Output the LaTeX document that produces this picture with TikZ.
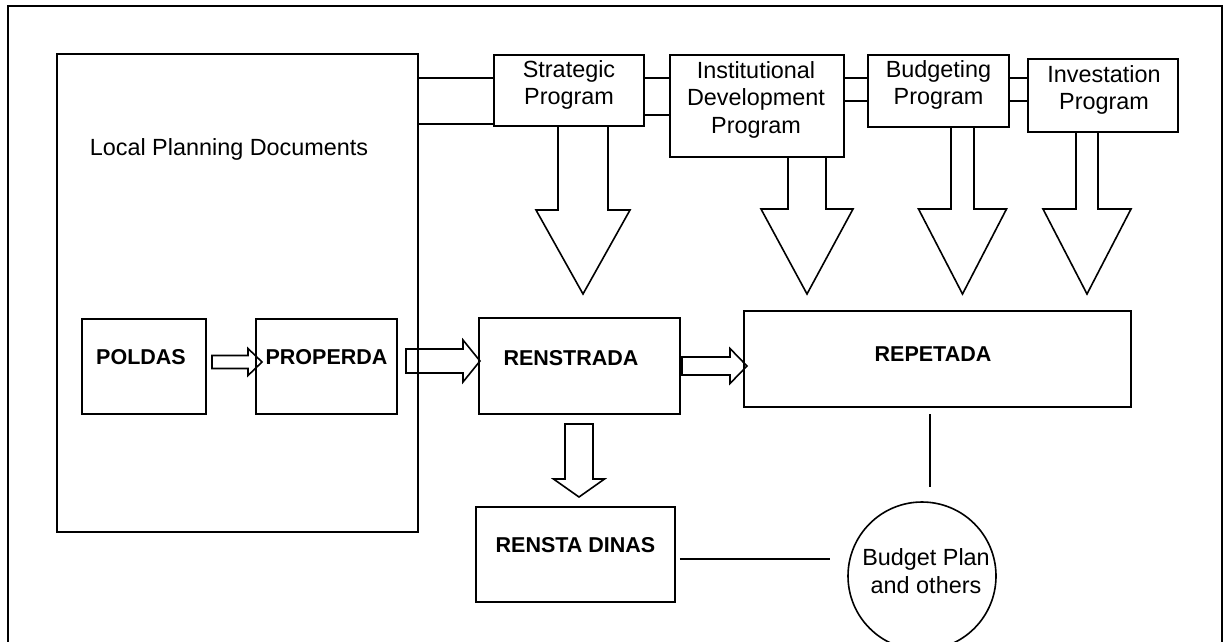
\documentclass[tikz,border=0pt]{standalone}
\usepackage{fontspec}
\setmainfont{Liberation Sans}
\begin{document}
\begin{tikzpicture}[x=1pt,y=-1pt,
  box/.style={draw, line width=1.6pt, rectangle, inner sep=0pt},
  frame/.style={draw, line width=2.4pt},
  txt/.style={inner sep=0pt, align=center, font=\fontsize{23.4}{27.5}\selectfont},
  btxt/.style={inner sep=0pt, align=center, font=\fontsize{21.5}{26}\selectfont\bfseries},
  conn/.style={line width=1.6pt},
  blk/.style={line width=1.6pt, line join=miter}]
\useasboundingbox (0,0) rectangle (1225,641);
\clip (0,0) rectangle (1225,641);
\fill[white] (0,0) rectangle (1225,641);
\draw[frame] (8,6) rectangle (1222,700);

% boxes
\node[box, minimum width=361, minimum height=478] (big) at (237.5,293) {};
\node[box, minimum width=150, minimum height=71] (strat) at (569,90.5) {};
\node[box, minimum width=174, minimum height=102] (inst) at (757,106) {};
\node[box, minimum width=141, minimum height=72] (budg) at (938.5,91) {};
\node[box, minimum width=150, minimum height=73] (invest) at (1103,95.5) {};
\node[box, minimum width=124, minimum height=95] (poldas) at (144,366.5) {};
\node[box, minimum width=141, minimum height=95] (properda) at (326.5,366.5) {};
\node[box, minimum width=201, minimum height=96] (renstrada) at (579.5,366) {};
\node[box, minimum width=387, minimum height=96] (repetada) at (937.5,359) {};
\node[box, minimum width=199, minimum height=95] (dinas) at (575.5,554.5) {};
\node[draw, line width=1.6pt, circle, inner sep=0pt, minimum size=148] (bp) at (922,576) {};

% texts
\node[txt] (lpd) at (229,149.5) {Local Planning Documents};
\node[txt] (stratT) at (569,85) {Strategic\\Program};
\node[txt] (instT) at (756,99.5) {Institutional\\Development\\Program};
\node[txt] (budgT) at (938.5,85) {Budgeting\\Program};
\node[txt] (investT) at (1104,90) {Investation\\Program};
\node[btxt] (poldasT) at (141,357.5) {POLDAS};
\node[btxt] (properdaT) at (326.5,357.5) {PROPERDA};
\node[btxt] (renstradaT) at (571,358) {RENSTRADA};
\node[btxt] (repetadaT) at (933,354) {REPETADA};
\node[btxt] (dinasT) at (575.5,545.5) {RENSTA DINAS};
\node[txt] (bpT) at (926,571) {Budget Plan\\and others};

% top connectors
\draw[conn] (big.east |- 0,78) -- (strat.west |- 0,78);
\draw[conn] (big.east |- 0,124) -- (strat.west |- 0,124);
\draw[conn] (strat.east |- 0,78) -- (inst.west |- 0,78);
\draw[conn] (strat.east |- 0,115) -- (inst.west |- 0,115);
\draw[conn] (inst.east |- 0,78) -- (budg.west |- 0,78);
\draw[conn] (inst.east |- 0,101) -- (budg.west |- 0,101);
\draw[conn] (budg.east |- 0,78) -- (invest.west |- 0,78);
\draw[conn] (budg.east |- 0,101) -- (invest.west |- 0,101);

% lower connectors
\coordinate (v1) at (930,414);
\coordinate (v2) at (930,487);
\draw[conn] (v1) -- (v2);
\draw[conn, shorten <=4pt, shorten >=17pt] (dinas.east |- 0,559) -- (bp.west |- 0,559);

% block arrows
\newcommand{\rblock}[6]{%
  \draw[blk] (#1,#4-#5) -- (#2,#4-#5) -- (#2,#4-#6) -- (#3,#4) -- (#2,#4+#6) -- (#2,#4+#5) -- (#1,#4+#5) -- cycle;}
\newcommand{\dblock}[6]{%
  \draw[blk] (#4-#5,#1) -- (#4-#5,#2) -- (#4-#6,#2) -- (#4,#3) -- (#4+#6,#2) -- (#4+#5,#2) -- (#4+#5,#1);}
\newcommand{\dblockc}[6]{%
  \draw[blk] (#4-#5,#1) -- (#4-#5,#2) -- (#4-#6,#2) -- (#4,#3) -- (#4+#6,#2) -- (#4+#5,#2) -- (#4+#5,#1) -- cycle;}

\rblock{212}{248}{262}{362}{6.5}{13.5}
\rblock{406}{463}{480}{361}{12}{21}
\rblock{682}{730}{747}{366}{9}{17.5}

\dblock{126}{210}{294}{583}{25}{47}
\dblock{157}{209}{294}{807}{19}{46}
\dblock{127}{209}{294}{962.5}{11.5}{44}
\dblock{132}{209}{294}{1087}{11}{44}
\dblockc{424}{479}{497}{579}{14}{25.5}
\end{tikzpicture}
\end{document}
